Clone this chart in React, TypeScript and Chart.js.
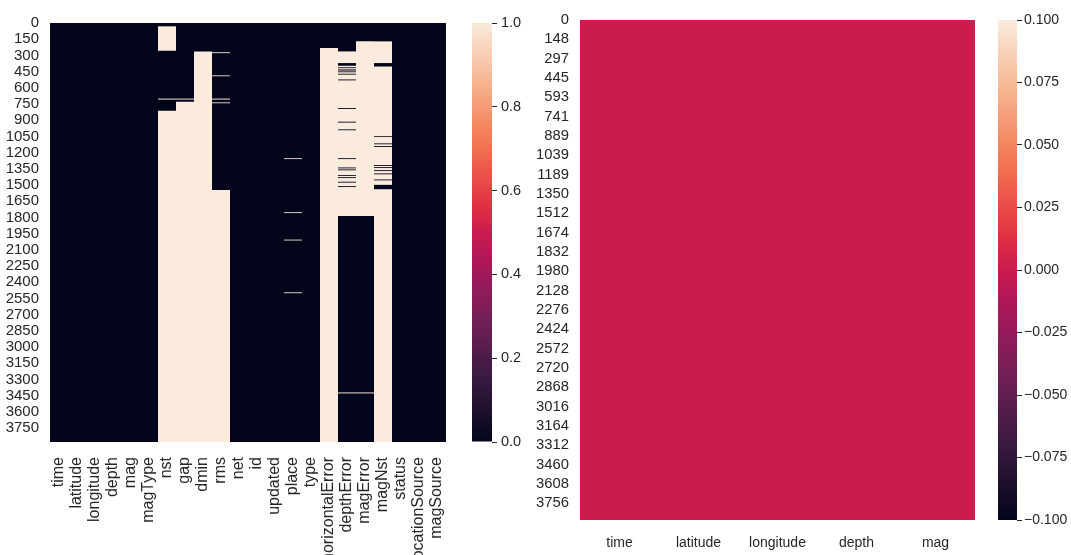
import React, { useEffect, useRef } from 'react';
import { Chart, registerables } from 'chart.js';

Chart.register(...registerables);

// ---------- data ----------
const columns = [
  'time', 'latitude', 'longitude', 'depth', 'mag', 'magType', 'nst', 'gap', 'dmin', 'rms',
  'net', 'id', 'updated', 'place', 'type', 'horizontalError', 'depthError', 'magError',
  'magNst', 'status', 'locationSource', 'magSource',
];
const rowCount = 3880;
const leftRowTicks = [0, 150, 300, 450, 600, 750, 900, 1050, 1200, 1350, 1500, 1650, 1800, 1950,
  2100, 2250, 2400, 2550, 2700, 2850, 3000, 3150, 3300, 3450, 3600, 3750];

// missing-value runs [firstRow, lastRow] per column (value 1 = missing)
const nstMissing = [[31, 257], [700, 709], [813, 3880]];
const gapMissing = [[700, 709], [730, 3880]];
const dminMissing = [[263, 3880]];
const rmsMissing = [[271, 279], [485, 493], [700, 709], [735, 743], [1546, 3880]];
const placeMissing = [[1252, 1260], [1752, 1760], [2006, 2014], [2494, 2502]];
const horizontalErrorMissing = [[232, 3880]];
const depthErrorMissing = [[263, 371], [396, 410], [418, 430], [440, 448], [456, 470], [478, 523],
  [531, 788], [796, 914], [922, 985], [993, 1252], [1260, 1338], [1346, 1356], [1364, 1409],
  [1417, 1428], [1436, 1470], [1478, 1511], [1519, 1787], [3421, 3430]];
const magErrorMissing = [[170, 1787], [3421, 3430]];
const magNstMissing = [[170, 371], [402, 1048], [1056, 1115], [1123, 1140], [1148, 1316],
  [1324, 1335], [1343, 1363], [1371, 1393], [1401, 1449], [1457, 1499], [1539, 3880]];

const missingByColumn: Record<string, number[][]> = {
  nst: nstMissing,
  gap: gapMissing,
  dmin: dminMissing,
  rms: rmsMissing,
  place: placeMissing,
  horizontalError: horizontalErrorMissing,
  depthError: depthErrorMissing,
  magError: magErrorMissing,
  magNst: magNstMissing,
};

const leftScaleMin = 0;
const leftScaleMax = 1;
const leftBarTicks = [0, 0.2, 0.4, 0.6, 0.8, 1.0];

const rightColumns = ['time', 'latitude', 'longitude', 'depth', 'mag'];
const rightValues = [0, 0, 0, 0, 0];
const rightRowCount = 3880;
const rightRowTickPositions = [0, 150, 300, 450, 600, 750, 900, 1050, 1200, 1350, 1500, 1650, 1800,
  1950, 2100, 2250, 2400, 2550, 2700, 2850, 3000, 3150, 3300, 3450, 3600, 3750];
const rightRowLabels = ['0', '148', '297', '445', '593', '741', '889', '1039', '1189', '1350', '1512',
  '1674', '1832', '1980', '2128', '2276', '2424', '2572', '2720', '2868', '3016', '3164', '3312',
  '3460', '3608', '3756'];
const rightScaleMin = -0.1;
const rightScaleMax = 0.1;
const rightBarTicks = [-0.1, -0.075, -0.05, -0.025, 0, 0.025, 0.05, 0.075, 0.1];

// ---------- colormap (rocket) ----------
const rocketStops: [number, number[]][] = [
  [0.0, [3, 5, 26]],
  [0.143, [53, 25, 62]],
  [0.286, [112, 31, 87]],
  [0.429, [173, 23, 89]],
  [0.5, [203, 27, 79]],
  [0.571, [225, 51, 66]],
  [0.714, [243, 118, 81]],
  [0.857, [246, 180, 143]],
  [1.0, [250, 235, 221]],
];
function rocket(t: number): string {
  const x = Math.max(0, Math.min(1, t));
  for (let i = 1; i < rocketStops.length; i++) {
    const [t1, c1] = rocketStops[i];
    const [t0, c0] = rocketStops[i - 1];
    if (x <= t1) {
      const f = (x - t0) / (t1 - t0);
      const c = c0.map((v, k) => Math.round(v + (c1[k] - v) * f));
      return `rgb(${c[0]},${c[1]},${c[2]})`;
    }
  }
  return 'rgb(250,235,221)';
}
function rocketGradient(ctx: any) {
  const chart = ctx.chart;
  const a = chart.chartArea;
  if (!a) return rocket(0.5);
  const g = chart.ctx.createLinearGradient(0, a.bottom, 0, a.top);
  rocketStops.forEach(([t, c]) => g.addColorStop(t, `rgb(${c[0]},${c[1]},${c[2]})`));
  return g;
}

const FONT = "'Liberation Sans', Arial, Helvetica, sans-serif";
const TEXT = '#262626';

const fixX = (h: number) => (s: any) => { s.height = h; s.paddingLeft = 0; s.paddingRight = 0; };
const fixY = (w: number) => (s: any) => { s.width = w; s.paddingTop = 0; s.paddingBottom = 0; };

// ---------- configs ----------
function leftHeatmapConfig(): any {
  const missingPoints: any[] = [];
  columns.forEach((c) => {
    (missingByColumn[c] || []).forEach(([a, b]) => missingPoints.push({ x: c, y: [a, b] }));
  });
  const presentPoints = columns.map((c) => ({ x: c, y: [0, rowCount] }));
  return {
    type: 'bar',
    data: {
      labels: columns,
      datasets: [
        {
          label: 'missing', data: missingPoints, backgroundColor: rocket(1), borderWidth: 0,
          inflateAmount: 0, grouped: false, barPercentage: 1, categoryPercentage: 1, order: 0,
        },
        {
          label: 'present', data: presentPoints, backgroundColor: rocket(0), borderWidth: 0,
          grouped: false, barPercentage: 1, categoryPercentage: 1, order: 1,
        },
      ],
    },
    options: {
      animation: false, responsive: false, devicePixelRatio: 1, events: [],
      layout: { padding: { top: 23, right: 14, bottom: 0, left: 0 } },
      plugins: { legend: { display: false }, tooltip: { enabled: false } },
      scales: {
        x: {
          type: 'category', offset: true,
          grid: { display: false, drawTicks: false }, border: { display: false },
          ticks: { minRotation: 90, maxRotation: 90, autoSkip: false, padding: 15, color: TEXT, font: { family: FONT, size: 16 } },
          afterFit: fixX(113),
        },
        y: {
          type: 'linear', reverse: true, min: 0, max: rowCount,
          grid: { display: false, drawTicks: false }, border: { display: false },
          afterBuildTicks: (s: any) => { s.ticks = leftRowTicks.map((v) => ({ value: v + 0.5 })); },
          ticks: { autoSkip: false, padding: 11, color: TEXT, font: { family: FONT, size: 15 }, callback: (_v: any, i: number) => String(leftRowTicks[i]) },
          afterFit: fixY(50),
        },
      },
    },
  };
}

function colorbarConfig(min: number, max: number, ticks: number[], fmt: (v: number) => string, axisWidth: number, fontSize: number, pad: number): any {
  return {
    type: 'bar',
    data: {
      labels: ['c'],
      datasets: [{
        data: [[min, max]], backgroundColor: rocketGradient, borderWidth: 0,
        barPercentage: 1, categoryPercentage: 1, inflateAmount: 0,
      }],
    },
    options: {
      animation: false, responsive: false, devicePixelRatio: 1, events: [],
      layout: { padding: { top: 12, right: 0, bottom: 12, left: 0 } },
      plugins: { legend: { display: false }, tooltip: { enabled: false } },
      scales: {
        x: { display: false },
        y: {
          position: 'right', min, max,
          grid: { display: true, drawOnChartArea: false, drawTicks: true, tickLength: 5, color: TEXT, lineWidth: 1 },
          border: { display: false },
          afterBuildTicks: (s: any) => { s.ticks = ticks.map((v) => ({ value: v })); },
          ticks: { autoSkip: false, padding: pad, color: TEXT, font: { family: FONT, size: fontSize }, callback: (v: any) => fmt(Number(v)) },
          afterFit: fixY(axisWidth),
        },
      },
    },
  };
}

function rightHeatmapConfig(): any {
  const points = rightColumns.map((c) => ({ x: c, y: [0, rightRowCount] }));
  const colors = rightValues.map((v) => rocket((v - rightScaleMin) / (rightScaleMax - rightScaleMin)));
  return {
    type: 'bar',
    data: {
      labels: rightColumns,
      datasets: [{
        data: points, backgroundColor: colors, borderWidth: 0,
        barPercentage: 1, categoryPercentage: 1,
      }],
    },
    options: {
      animation: false, responsive: false, devicePixelRatio: 1, events: [],
      layout: { padding: { top: 20, right: 10, bottom: 0, left: 0 } },
      plugins: { legend: { display: false }, tooltip: { enabled: false } },
      scales: {
        x: {
          type: 'category', offset: true,
          grid: { display: false, drawTicks: false }, border: { display: false },
          ticks: { maxRotation: 0, minRotation: 0, autoSkip: false, padding: 15, color: TEXT, font: { family: FONT, size: 14 } },
          afterFit: fixX(35),
        },
        y: {
          type: 'linear', reverse: true, min: 0, max: rightRowCount,
          grid: { display: false, drawTicks: false }, border: { display: false },
          afterBuildTicks: (s: any) => { s.ticks = rightRowTickPositions.map((v) => ({ value: v + 0.5 })); },
          ticks: { autoSkip: false, padding: 11, color: TEXT, font: { family: FONT, size: 14.8 }, callback: (_v: any, i: number) => rightRowLabels[i] },
          afterFit: fixY(60),
        },
      },
    },
  };
}

// ---------- components ----------
function ChartCanvas({ left, top, width, height, make }: { left: number; top: number; width: number; height: number; make: () => any }) {
  const ref = useRef<HTMLCanvasElement | null>(null);
  useEffect(() => {
    if (!ref.current) return;
    const chart = new Chart(ref.current, make());
    return () => chart.destroy();
  }, []);
  return (
    <canvas
      ref={ref}
      width={width}
      height={height}
      style={{ position: 'absolute', left, top, width, height }}
    />
  );
}

const fmtMinus = (v: number, d: number) => {
  const s = Math.abs(v) < 1e-9 ? (0).toFixed(d) : v.toFixed(d);
  return s.replace('-', '\u2212');
};

export default function App() {
  return (
    <div style={{ position: 'fixed', left: 0, top: 0, width: 1071, height: 555, background: '#fff', overflow: 'hidden' }}>
      <ChartCanvas left={0} top={0} width={460} height={555} make={leftHeatmapConfig} />
      <ChartCanvas left={472} top={11} width={60} height={443}
        make={() => colorbarConfig(leftScaleMin, leftScaleMax, leftBarTicks, (v) => v.toFixed(1), 40, 14.5, 4)} />
      <ChartCanvas left={520} top={0} width={465} height={555} make={rightHeatmapConfig} />
      <ChartCanvas left={998} top={8} width={74} height={524}
        make={() => colorbarConfig(rightScaleMin, rightScaleMax, rightBarTicks, (v) => fmtMinus(v, 3), 55, 14, 2)} />
    </div>
  );
}
